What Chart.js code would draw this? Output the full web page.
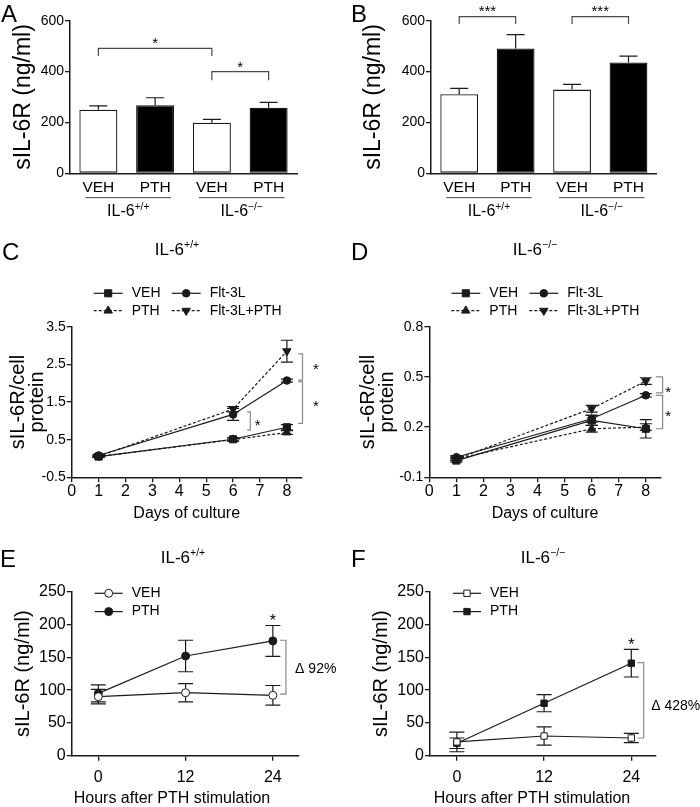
<!DOCTYPE html>
<html><head><meta charset="utf-8">
<script src="https://cdn.jsdelivr.net/npm/chart.js@4.4.1/dist/chart.umd.min.js"></script>
<style>
html,body{margin:0;padding:0;background:#fff}
body{width:700px;height:807px;position:relative;overflow:hidden;font-family:"Liberation Sans",Arial,sans-serif;color:#000}
canvas{position:absolute}
.letter{position:absolute;font-size:24px;line-height:1}
.ptitle{position:absolute;font-size:17px;line-height:1;transform:translate(-50%,-50%);white-space:nowrap}
.ptitle span{font-size:10.5px;position:relative;top:-7px}
</style></head><body>
<canvas id="cA" width="350" height="240" style="left:0;top:0"></canvas>
<canvas id="cB" width="350" height="240" style="left:350px;top:0"></canvas>
<canvas id="cC" width="350" height="290" style="left:0;top:240px"></canvas>
<canvas id="cD" width="350" height="290" style="left:350px;top:240px"></canvas>
<canvas id="cE" width="350" height="272" style="left:0;top:535px"></canvas>
<canvas id="cF" width="350" height="272" style="left:350px;top:535px"></canvas>
<div class="letter" style="left:1px;top:2px">A</div>
<div class="letter" style="left:351px;top:2px">B</div>
<div class="letter" style="left:2px;top:240px">C</div>
<div class="letter" style="left:351px;top:240px">D</div>
<div class="letter" style="left:0px;top:547px">E</div>
<div class="letter" style="left:351px;top:547px">F</div>
<div class="ptitle" style="left:177px;top:249px">IL-6<span>+/+</span></div>
<div class="ptitle" style="left:535px;top:249px">IL-6<span>−/−</span></div>
<div class="ptitle" style="left:183px;top:557px">IL-6<span>+/+</span></div>
<div class="ptitle" style="left:543px;top:557px">IL-6<span>−/−</span></div>
<script>
// ---------------- data ----------------
const barCategories = ['VEH', 'PTH', 'VEH', 'PTH'];
const genotypeMain = 'IL-6';
const genotypeSup = ['+/+', '−/−'];
const barYTicks = [0, 200, 400, 600];

const panelAValues = [250, 268, 199, 258];
const panelAErrors = [15, 29, 13, 21];
const panelBValues = [311, 491, 329, 436];
const panelBErrors = [23, 54, 21, 25];

const cultureDays = [1, 6, 8];
const dayTicks = [0, 1, 2, 3, 4, 5, 6, 7, 8];
const seriesNamesCD = ['VEH', 'PTH', 'Flt-3L', 'Flt-3L+PTH'];

const panelCYTicks = [-0.5, 0.5, 1.5, 2.5, 3.5];
const panelC_VEH = [0.05, 0.51, 0.83];
const panelC_PTH = [0.05, 0.50, 0.69];
const panelC_Flt = [0.08, 1.17, 2.07];
const panelC_FltPTH = [0.06, 1.31, 2.85];
const panelC_VEHerr = [0.02, 0.04, 0.07];
const panelC_PTHerr = [0.02, 0.04, 0.05];
const panelC_Flterr = [0.03, 0.16, 0.04];
const panelC_FltPTHerr = [0.03, 0.07, 0.29];

const panelDYTicks = [-0.1, 0.2, 0.5, 0.8];
const panelD_VEH = [0.0, 0.24, 0.19];
const panelD_PTH = [0.01, 0.19, 0.20];
const panelD_Flt = [0.02, 0.25, 0.39];
const panelD_FltPTH = [0.01, 0.31, 0.475];
const panelD_VEHerr = [0.01, 0.03, 0.055];
const panelD_PTHerr = [0.01, 0.02, 0.02];
const panelD_Flterr = [0.01, 0.02, 0.01];
const panelD_FltPTHerr = [0.01, 0.02, 0.02];

const hoursPTH = [0, 12, 24];
const seriesNamesEF = ['VEH', 'PTH'];
const hourYTicks = [0, 50, 100, 150, 200, 250];
const panelE_VEH = [90, 96, 92];
const panelE_PTH = [95, 152, 175];
const panelE_VEHerr = [11, 14, 15];
const panelE_PTHerr = [13, 24, 23.5];
const panelF_VEH = [21, 30, 27];
const panelF_PTH = [19, 80, 141];
const panelF_VEHerr = [15, 14, 7];
const panelF_PTHerr = [8, 13, 21];

// ---------------- styling ----------------
const FONT = '"Liberation Sans", Arial, sans-serif';
Chart.defaults.font.family = FONT;
Chart.defaults.color = '#000';
const INK = '#1a1a1a';
const barFill = ['#ffffff', '#000000', '#ffffff', '#000000'];

const extras = {
  id: 'extras',
  beforeDatasetsDraw(chart) {
    const o = chart.options.plugins.extras || {};
    const ctx = chart.ctx, ys = chart.scales.y;
    ctx.save();
    ctx.strokeStyle = INK; ctx.lineWidth = 1.2;
    chart.data.datasets.forEach((ds, di) => {
      if (!ds.errors) return;
      const meta = chart.getDatasetMeta(di);
      meta.data.forEach((el, i) => {
        const e = ds.errors[i]; if (!e) return;
        const v = ds.data[i];
        const yv = typeof v === 'object' ? v.y : v;
        const x = el.x;
        const yTop = ys.getPixelForValue(yv + e);
        const yBot = o.errUpOnly ? ys.getPixelForValue(yv) : ys.getPixelForValue(yv - e);
        const cw = o.capWidth / 2;
        ctx.beginPath();
        ctx.moveTo(x, yTop); ctx.lineTo(x, yBot);
        ctx.moveTo(x - cw, yTop); ctx.lineTo(x + cw, yTop);
        if (!o.errUpOnly) { ctx.moveTo(x - cw, yBot); ctx.lineTo(x + cw, yBot); }
        ctx.stroke();
      });
    });
    ctx.restore();
  },
  afterDatasetsDraw(chart) {
    const o = chart.options.plugins.extras || {};
    const ctx = chart.ctx, xs = chart.scales.x, ys = chart.scales.y, ca = chart.chartArea;
    ctx.save();
    (o.brackets || []).forEach(b => {
      ctx.strokeStyle = o.bracketColor || '#808080'; ctx.lineWidth = 1.2;
      ctx.beginPath();
      if (b.type === 'h') {
        const x0 = xs.getPixelForValue(b.i0), x1 = xs.getPixelForValue(b.i1);
        const y = ys.getPixelForValue(b.y), yd = ys.getPixelForValue(b.drop);
        ctx.moveTo(x0, yd); ctx.lineTo(x0, y); ctx.lineTo(x1, y); ctx.lineTo(x1, yd);
      } else {
        const x = xs.getPixelForValue(b.x), xa = xs.getPixelForValue(b.xArm);
        const y0 = ys.getPixelForValue(b.y0), y1 = ys.getPixelForValue(b.y1);
        ctx.moveTo(xa, y0); ctx.lineTo(x, y0); ctx.lineTo(x, y1); ctx.lineTo(xa, y1);
      }
      ctx.stroke();
    });
    (o.texts || []).forEach(t => {
      const px = xs.getPixelForValue(t.x), py = ys.getPixelForValue(t.y);
      ctx.fillStyle = '#000';
      ctx.font = `${t.size}px ${FONT}`;
      ctx.textAlign = t.align || 'center';
      if (t.star) { ctx.textBaseline = 'alphabetic'; ctx.fillText(t.text, px, py + t.size * 0.57); }
      else { ctx.textBaseline = 'middle'; ctx.fillText(t.text, px, py); }
    });
    if (o.axisTitle) {
      const a = o.axisTitle;
      ctx.fillStyle = '#000'; ctx.font = `${a.size}px ${FONT}`;
      ctx.textAlign = 'center'; ctx.textBaseline = 'middle';
      ctx.fillText(a.text, (ca.left + ca.right) / 2 + a.dx, ca.bottom + a.dy);
    }
    (o.groups || []).forEach(g => {
      const x0 = xs.getPixelForValue(g.i0), x1 = xs.getPixelForValue(g.i1);
      const yl = ca.bottom + o.groupLineDy;
      ctx.strokeStyle = '#6a6a6a'; ctx.lineWidth = 1.3;
      ctx.beginPath(); ctx.moveTo(x0 - 13, yl); ctx.lineTo(x1 + 16, yl); ctx.stroke();
      const size = o.groupFont;
      ctx.font = `${size}px ${FONT}`;
      const w1 = ctx.measureText(g.main).width;
      const supSize = size * 0.64;
      ctx.font = `${supSize}px ${FONT}`;
      const w2 = ctx.measureText(g.sup).width;
      const cx = (x0 + x1) / 2 + 1.5;
      const start = cx - (w1 + w2) / 2;
      const base = yl + o.groupTextDy + size * 0.36;
      ctx.fillStyle = '#000'; ctx.textAlign = 'left'; ctx.textBaseline = 'alphabetic';
      ctx.font = `${size}px ${FONT}`; ctx.fillText(g.main, start, base);
      ctx.font = `${supSize}px ${FONT}`; ctx.fillText(g.sup, start + w1, base - size * 0.38);
    });
    const L = o.legend;
    if (L) {
      chart.data.datasets.forEach((ds, k) => {
        const row = k % L.rows, col = Math.floor(k / L.rows);
        const x0 = ca.left + L.dx + col * L.colW, y = ca.top + L.dy + row * L.rowH;
        ctx.strokeStyle = INK; ctx.lineWidth = ds.borderWidth;
        ctx.setLineDash(ds.borderDash || []);
        ctx.beginPath(); ctx.moveTo(x0, y); ctx.lineTo(x0 + L.lineLen, y); ctx.stroke();
        ctx.setLineDash([]);
        ctx.fillStyle = ds.pointBackgroundColor; ctx.strokeStyle = ds.pointBorderColor; ctx.lineWidth = ds.pointBorderWidth;
        Chart.helpers.drawPoint(ctx, {pointStyle: ds.pointStyle, rotation: ds.pointRotation || 0, radius: ds.pointRadius, borderWidth: ds.pointBorderWidth}, x0 + L.lineLen / 2, y);
        ctx.fillStyle = '#000'; ctx.font = `${L.size}px ${FONT}`;
        ctx.textBaseline = 'middle'; ctx.textAlign = 'left';
        ctx.fillText(ds.label, x0 + L.lineLen + L.gap, y);
      });
    }
    ctx.restore();
  }
};

function tickList(arr) { return s => { s.ticks = arr.map(v => ({value: v})); }; }

function yAxis(ticks, tickSize, title, titleSize, titleLH, width, titlePad) {
  return {
    min: ticks[0], max: ticks[ticks.length - 1],
    afterBuildTicks: tickList(ticks),
    ticks: {font: {size: tickSize}, color: '#000', padding: 1},
    grid: {display: true, drawOnChartArea: false, drawTicks: true, tickLength: 5, color: INK, lineWidth: 1.3},
    border: {display: true, color: INK, width: 1.5},
    title: {display: true, text: title, font: {size: titleSize, lineHeight: titleLH}, color: '#000', padding: {top: titlePad, bottom: 0}},
    afterFit(s) { s.width = width; }
  };
}

function barPanel(id, values, errors, brackets, texts, yWidth, padRight) {
  return new Chart(document.getElementById(id), {
    type: 'bar',
    data: {labels: barCategories, datasets: [{data: values, errors: errors, backgroundColor: barFill, borderColor: INK, borderWidth: 1.3, borderSkipped: false, categoryPercentage: 1, barPercentage: 0.67}]},
    options: {
      responsive: false, animation: false, devicePixelRatio: 1, events: [],
      layout: {padding: {left: 5, right: padRight, top: 20.7, bottom: 42.7}},
      plugins: {
        legend: {display: false}, tooltip: {enabled: false},
        extras: {
          errUpOnly: true, capWidth: 18, brackets, texts, bracketColor: '#4a4a4a',
          groups: [{i0: 0, i1: 1, main: genotypeMain, sup: genotypeSup[0]}, {i0: 2, i1: 3, main: genotypeMain, sup: genotypeSup[1]}],
          groupLineDy: 24.4, groupTextDy: 13, groupFont: 16
        }
      },
      scales: {
        x: {
          grid: {display: false, drawTicks: false},
          border: {display: true, color: INK, width: 1.5},
          ticks: {font: {size: 15.5}, color: '#000', padding: 5},
          afterFit(s) { s.height = 24; }
        },
        y: yAxis(barYTicks, 14, 'sIL-6R (ng/ml)', 23, 1.2, yWidth, 5.2)
      }
    },
    plugins: [extras]
  });
}

barPanel('cA', panelAValues, panelAErrors,
  [{type: 'h', i0: 0, i1: 2, y: 491, drop: 461}, {type: 'h', i0: 2, i1: 3, y: 400, drop: 366}],
  [{x: 1, y: 526, text: '*', size: 15, star: true}, {x: 2.5, y: 432, text: '*', size: 15, star: true}],
  65, 53);
barPanel('cB', panelBValues, panelBErrors,
  [{type: 'h', i0: 0, i1: 1, y: 616, drop: 587}, {type: 'h', i0: 2, i1: 3, y: 616, drop: 587}],
  [{x: 0.5, y: 653, text: '***', size: 15, star: true}, {x: 2.5, y: 653, text: '***', size: 15, star: true}],
  76, 43.3);

function lineDS(label, xv, yv, errs, style) {
  return Object.assign({
    label, data: xv.map((x, i) => ({x, y: yv[i]})), errors: errs,
    borderColor: INK, borderWidth: 1.2, tension: 0, fill: false,
    pointBorderColor: INK, pointBorderWidth: 1, pointBackgroundColor: INK, clip: false
  }, style);
}
const DASH = [3, 2];

function linePanel(id, datasets, cfg) {
  return new Chart(document.getElementById(id), {
    type: 'line',
    data: {datasets},
    options: {
      responsive: false, animation: false, devicePixelRatio: 1, events: [],
      layout: {padding: {left: 3, right: cfg.padRight, top: cfg.padTop, bottom: 0}},
      plugins: {
        legend: {display: false}, tooltip: {enabled: false},
        extras: {errUpOnly: false, capWidth: cfg.capWidth, brackets: cfg.brackets, texts: cfg.texts, legend: cfg.legend, bracketColor: '#8a8a8a', axisTitle: cfg.axisTitle}
      },
      scales: {
        x: {
          type: 'linear', min: cfg.xMin, max: cfg.xMax,
          afterBuildTicks: tickList(cfg.xTicks),
          grid: {display: true, drawOnChartArea: false, drawTicks: true, tickLength: 5, color: INK, lineWidth: 1.3},
          border: {display: true, color: INK, width: 1.5},
          ticks: {font: {size: 16}, color: '#000', padding: cfg.xTickPad, maxRotation: 0},
          title: {display: !cfg.axisTitle, text: cfg.xTitle, font: {size: 16}, color: '#000', padding: {top: 0, bottom: cfg.xTitlePad}},
          afterFit(s) { s.height = cfg.xHeight; }
        },
        y: yAxis(cfg.yTicks, cfg.yTickSize, cfg.yTitle, 20, cfg.yTitleLH, cfg.yWidth, cfg.yTitlePad)
      }
    },
    plugins: [extras]
  });
}

const cdStyles = [
  {pointStyle: 'rect', pointRadius: 5},
  {pointStyle: 'triangle', pointRadius: 4.8, borderDash: DASH},
  {pointStyle: 'circle', pointRadius: 3.8},
  {pointStyle: 'triangle', pointRotation: 180, pointRadius: 4.8, borderDash: DASH}
];
const cdLegend = {dx: 22, dy: -33.4, colW: 78, rowH: 17.4, rows: 2, lineLen: 29, gap: 9, size: 14};

linePanel('cC', [
  lineDS(seriesNamesCD[0], cultureDays, panelC_VEH, panelC_VEHerr, cdStyles[0]),
  lineDS(seriesNamesCD[1], cultureDays, panelC_PTH, panelC_PTHerr, cdStyles[1]),
  lineDS(seriesNamesCD[2], cultureDays, panelC_Flt, panelC_Flterr, cdStyles[2]),
  lineDS(seriesNamesCD[3], cultureDays, panelC_FltPTH, panelC_FltPTHerr, cdStyles[3])
], {
  padRight: 48.3, padTop: 86.7, capWidth: 12, xMin: 0, xMax: 8.55, xTicks: dayTicks, xTickPad: 0,
  xTitle: 'Days of culture', xTitlePad: 6.4, xHeight: 52.7,
  yTicks: panelCYTicks, yTickSize: 14, yTitle: ['sIL-6R/cell', 'protein'], yTitleLH: 0.95, yWidth: 68.7, yTitlePad: 5.5,
  brackets: [
    {type: 'v', x: 8.58, xArm: 8.42, y0: 2.78, y1: 2.08},
    {type: 'v', x: 8.58, xArm: 8.42, y0: 2.04, y1: 0.93},
    {type: 'v', x: 6.64, xArm: 6.52, y0: 1.24, y1: 0.76}
  ],
  texts: [
    {x: 9.08, y: 2.48, text: '*', size: 15, star: true},
    {x: 9.08, y: 1.48, text: '*', size: 15, star: true},
    {x: 6.91, y: 0.98, text: '*', size: 15, star: true}
  ],
  legend: cdLegend
});

linePanel('cD', [
  lineDS(seriesNamesCD[0], cultureDays, panelD_VEH, panelD_VEHerr, cdStyles[0]),
  lineDS(seriesNamesCD[1], cultureDays, panelD_PTH, panelD_PTHerr, cdStyles[1]),
  lineDS(seriesNamesCD[2], cultureDays, panelD_Flt, panelD_Flterr, cdStyles[2]),
  lineDS(seriesNamesCD[3], cultureDays, panelD_FltPTH, panelD_FltPTHerr, cdStyles[3])
], {
  padRight: 39.3, padTop: 86.7, capWidth: 12, xMin: 0, xMax: 8.55, xTicks: dayTicks, xTickPad: 0,
  xTitle: 'Days of culture', xTitlePad: 6.4, xHeight: 52.7,
  yTicks: panelDYTicks, yTickSize: 14, yTitle: ['sIL-6R/cell', 'protein'], yTitleLH: 0.95, yWidth: 76.3, yTitlePad: 5.5,
  brackets: [
    {type: 'v', x: 8.62, xArm: 8.37, y0: 0.50, y1: 0.405},
    {type: 'v', x: 8.62, xArm: 8.37, y0: 0.39, y1: 0.19}
  ],
  texts: [
    {x: 8.83, y: 0.433, text: '*', size: 15, star: true},
    {x: 8.83, y: 0.286, text: '*', size: 15, star: true}
  ],
  legend: cdLegend
});

const efLegend = {dx: 23, dy: 1.6, colW: 0, rowH: 18.3, rows: 2, lineLen: 28, gap: 9, size: 14};

linePanel('cE', [
  lineDS(seriesNamesEF[0], hoursPTH, panelE_VEH, panelE_VEHerr, {pointStyle: 'circle', pointRadius: 4, pointBackgroundColor: '#ffffff'}),
  lineDS(seriesNamesEF[1], hoursPTH, panelE_PTH, panelE_PTHerr, {pointStyle: 'circle', pointRadius: 4})
], {
  padRight: 51.7, padTop: 56.7, capWidth: 15, xMin: -3.66, xMax: 27.5, xTicks: hoursPTH, xTickPad: 7,
  xTitle: 'Hours after PTH stimulation', xTitlePad: 0, xHeight: 51.3,
  axisTitle: {text: 'Hours after PTH stimulation', size: 16, dx: -13, dy: 42.6},
  yTicks: hourYTicks, yTickSize: 16, yTitle: 'sIL-6R (ng/ml)', yTitleLH: 1.2, yWidth: 68.7, yTitlePad: 8,
  brackets: [{type: 'v', x: 25.8, xArm: 25.0, y0: 176, y1: 94}],
  texts: [
    {x: 24, y: 212, text: '*', size: 16, star: true},
    {x: 27.06, y: 132, text: 'Δ 92%', size: 14, align: 'left'}
  ],
  legend: efLegend
});

linePanel('cF', [
  lineDS(seriesNamesEF[0], hoursPTH, panelF_VEH, panelF_VEHerr, {pointStyle: 'rect', pointRadius: 4.5, pointBackgroundColor: '#ffffff'}),
  lineDS(seriesNamesEF[1], hoursPTH, panelF_PTH, panelF_PTHerr, {pointStyle: 'rect', pointRadius: 4.5})
], {
  padRight: 44, padTop: 56.7, capWidth: 15, xMin: -3.7, xMax: 27.4, xTicks: hoursPTH, xTickPad: 7,
  xTitle: 'Hours after PTH stimulation', xTitlePad: 0, xHeight: 51.3,
  axisTitle: {text: 'Hours after PTH stimulation', size: 16, dx: -11, dy: 42.6},
  yTicks: hourYTicks, yTickSize: 16, yTitle: 'sIL-6R (ng/ml)', yTitleLH: 1.2, yWidth: 77, yTitlePad: 16.3,
  brackets: [{type: 'v', x: 25.7, xArm: 24.85, y0: 142, y1: 27}],
  texts: [
    {x: 24, y: 175, text: '*', size: 16, star: true},
    {x: 26.74, y: 75.8, text: 'Δ 428%', size: 14, align: 'left'}
  ],
  legend: efLegend
});
</script>
</body></html>
